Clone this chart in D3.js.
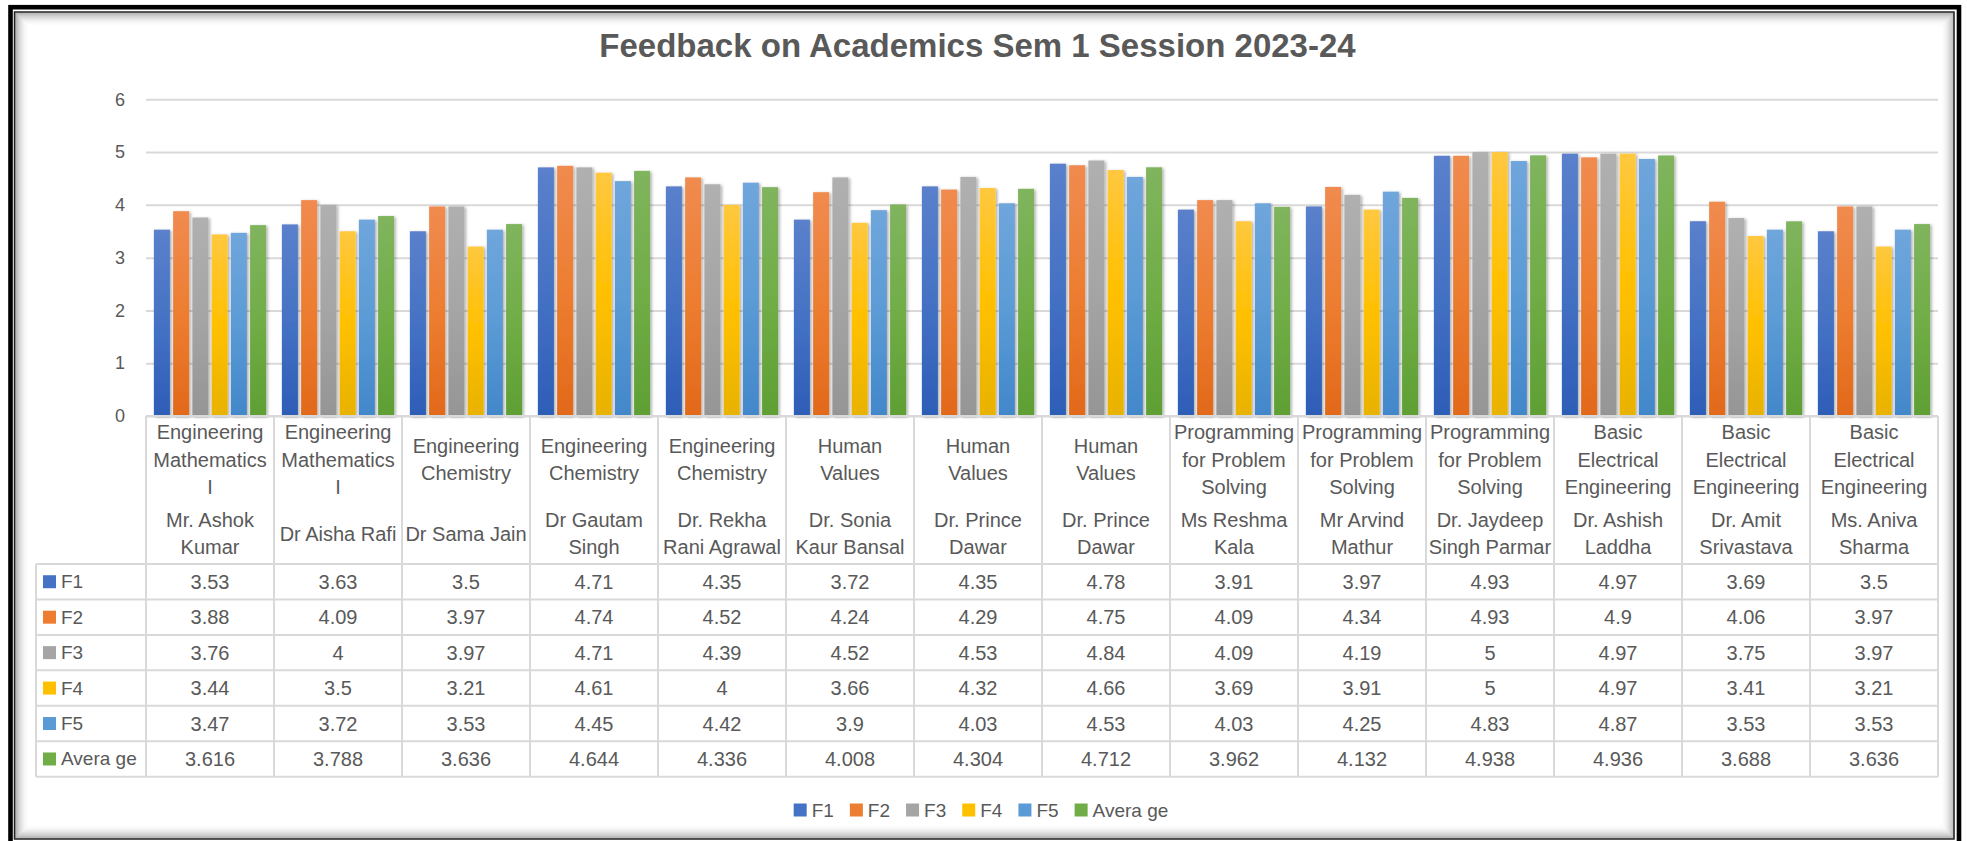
<!DOCTYPE html>
<html>
<head>
<meta charset="utf-8">
<script src="https://cdn.jsdelivr.net/npm/d3@7"></script>
<style>
  body { margin: 0; background: #fff; }
  svg { display: block; }
  text { font-family: "Liberation Sans", Arial, sans-serif; fill: #595959; }
</style>
</head>
<body>
<div id="chart"></div>
<script>

const width = 1967 ;
const height = 841 ;

// subject / teacher labels, one string per column, lines split by \n
const subjects = [
	"Engineering\nMathematics\nI", "Engineering\nMathematics\nI",
	"Engineering\nChemistry", "Engineering\nChemistry", "Engineering\nChemistry",
	"Human\nValues", "Human\nValues", "Human\nValues",
	"Programming\nfor Problem\nSolving", "Programming\nfor Problem\nSolving", "Programming\nfor Problem\nSolving",
	"Basic\nElectrical\nEngineering", "Basic\nElectrical\nEngineering", "Basic\nElectrical\nEngineering"
]
const teachers = [
	"Mr. Ashok\nKumar", "Dr Aisha Rafi", "Dr Sama Jain", "Dr Gautam\nSingh", "Dr. Rekha\nRani Agrawal",
	"Dr. Sonia\nKaur Bansal", "Dr. Prince\nDawar", "Dr. Prince\nDawar", "Ms Reshma\nKala", "Mr Arvind\nMathur",
	"Dr. Jaydeep\nSingh Parmar", "Dr. Ashish\nLaddha", "Dr. Amit\nSrivastava", "Ms. Aniva\nSharma"
]

const seriesNames = [ "F1", "F2", "F3", "F4", "F5", "Avera ge" ]

const F1  = [3.53, 3.63, 3.5, 4.71, 4.35, 3.72, 4.35, 4.78, 3.91, 3.97, 4.93, 4.97, 3.69, 3.5]
const F2  = [3.88, 4.09, 3.97, 4.74, 4.52, 4.24, 4.29, 4.75, 4.09, 4.34, 4.93, 4.9, 4.06, 3.97]
const F3  = [3.76, 4, 3.97, 4.71, 4.39, 4.52, 4.53, 4.84, 4.09, 4.19, 5, 4.97, 3.75, 3.97]
const F4  = [3.44, 3.5, 3.21, 4.61, 4, 3.66, 4.32, 4.66, 3.69, 3.91, 5, 4.97, 3.41, 3.21]
const F5  = [3.47, 3.72, 3.53, 4.45, 4.42, 3.9, 4.03, 4.53, 4.03, 4.25, 4.83, 4.87, 3.53, 3.53]
const Avg = [3.616, 3.788, 3.636, 4.644, 4.336, 4.008, 4.304, 4.712, 3.962, 4.132, 4.938, 4.936, 3.688, 3.636]

const yTicks = [0, 1, 2, 3, 4, 5, 6]

const series = [F1, F2, F3, F4, F5, Avg]

// base colour + top / bottom shade of the bar gradient
const colors = [ "#4472C4", "#ED7D31", "#A5A5A5", "#FFC000", "#5B9BD5", "#70AD47" ]
const shadeTop = [ "#5B80CB", "#F08B4F", "#B0B0B0", "#FFC83F", "#6FA6DC", "#80B45E" ]
const shadeBot = [ "#2E5DB7", "#E2691A", "#959595", "#E8B200", "#4287CA", "#5E9F34" ]

const plotLeft = 146, plotRight = 1938
const plotTop = 99.3, plotBottom = 416
const rowTop = 564, rowH = 35.45
const tableLeft = 36
const lineColor = "#D9D9D9"

const svg = d3.select("#chart").append("svg")
	.attr("width", width)
	.attr("height", height)

const defs = svg.append("defs")

series.forEach(function(s, i) {
	const g = defs.append("linearGradient")
		.attr("id", "grad" + i)
		.attr("x1", 0).attr("y1", 0).attr("x2", 0).attr("y2", 1)
	g.append("stop").attr("offset", "0%").attr("stop-color", shadeTop[i])
	g.append("stop").attr("offset", "50%").attr("stop-color", colors[i])
	g.append("stop").attr("offset", "100%").attr("stop-color", shadeBot[i])
})

defs.append("filter").attr("id", "shadow")
	.attr("x", "-20%").attr("y", "-5%").attr("width", "160%").attr("height", "115%")
	.append("feDropShadow")
	.attr("dx", 1.5).attr("dy", 1).attr("stdDeviation", 1.5)
	.attr("flood-color", "#000").attr("flood-opacity", 0.35)

svg.append("rect").attr("width", width).attr("height", height).attr("fill", "#fff")

// frame: thick black border, thin inner line and soft inner shadow
for (var k = 0; k < 14; k++) {
	svg.append("rect")
		.attr("x", 15.5 + k).attr("y", 13 + k)
		.attr("width", 1954 - 15.5 - 2 * k).attr("height", 838 - 13 - 2 * k)
		.attr("fill", "none")
		.attr("stroke", "#000")
		.attr("stroke-opacity", 0.32 * Math.pow(1 - k / 14, 2))
}
svg.append("rect")
	.attr("x", 14.5).attr("y", 12).attr("width", 1954 - 14.5).attr("height", 839 - 12)
	.attr("fill", "none").attr("stroke", "#222").attr("stroke-width", 1.5)
svg.append("rect")
	.attr("x", 10.5).attr("y", 7.2).attr("width", 1959 - 10.5).attr("height", 840)
	.attr("fill", "none").attr("stroke", "#000").attr("stroke-width", 4.6)

svg.append("text")
	.attr("x", 977.5).attr("y", 57)
	.attr("text-anchor", "middle")
	.style("font-size", "33px").style("font-weight", "bold")
	.text("Feedback on Academics Sem 1 Session 2023-24")

const x0 = d3.scaleBand().domain(d3.range(subjects.length)).range([plotLeft, plotRight]).padding(0)
const x1 = d3.scaleBand().domain(d3.range(series.length)).range([0, x0.bandwidth()])
	.paddingInner(0.167).paddingOuter(0.41)
const y = d3.scaleLinear().domain([0, 6]).range([plotBottom, plotTop])

// gridlines + y labels
const yAxis = svg.append("g")
	.attr("transform", "translate(" + plotLeft + ",0)")
	.call(d3.axisLeft(y).tickValues(yTicks).tickFormat(d3.format("d"))
		.tickSize(-(plotRight - plotLeft)).tickPadding(21))
yAxis.select(".domain").remove()
yAxis.selectAll("line").attr("stroke", lineColor).attr("stroke-width", 2)
yAxis.selectAll("text").style("font-size", "18px").attr("fill", "#595959")
	.style("font-family", "'Liberation Sans', Arial, sans-serif")

// bars
const groups = svg.append("g").selectAll("g")
	.data(subjects)
	.enter().append("g")
	.attr("transform", function(d, i) { return "translate(" + x0(i) + ",0)" })

groups.selectAll("rect")
	.data(function(d, i) { return series.map(function(s, j) { return { s: j, v: s[i] } }) })
	.enter().append("rect")
	.attr("x", function(d) { return x1(d.s) })
	.attr("y", function(d) { return y(d.v) })
	.attr("width", x1.bandwidth())
	.attr("height", function(d) { return y(0) - y(d.v) })
	.attr("fill", function(d) { return "url(#grad" + d.s + ")" })
	.attr("filter", "url(#shadow)")

// data table
const table = svg.append("g")
const rowBottom = rowTop + rowH * series.length

table.append("line")
	.attr("x1", plotLeft).attr("x2", plotRight).attr("y1", plotBottom).attr("y2", plotBottom)
	.attr("stroke", lineColor).attr("stroke-width", 2)

d3.range(series.length + 1).forEach(function(r) {
	table.append("line")
		.attr("x1", tableLeft).attr("x2", plotRight)
		.attr("y1", rowTop + r * rowH).attr("y2", rowTop + r * rowH)
		.attr("stroke", lineColor).attr("stroke-width", 2)
})
table.append("line")
	.attr("x1", tableLeft).attr("x2", tableLeft).attr("y1", rowTop).attr("y2", rowBottom)
	.attr("stroke", lineColor).attr("stroke-width", 2)
d3.range(subjects.length + 1).forEach(function(c) {
	const xx = c < subjects.length ? x0(c) : plotRight
	table.append("line")
		.attr("x1", xx).attr("x2", xx).attr("y1", plotBottom).attr("y2", rowBottom)
		.attr("stroke", lineColor).attr("stroke-width", 2)
})

function multiline(sel, str, cx, cy, lh) {
	const lines = str.split("\n")
	lines.forEach(function(l, i) {
		sel.append("text")
			.attr("x", cx)
			.attr("y", cy + (i - (lines.length - 1) / 2) * lh)
			.attr("text-anchor", "middle")
			.attr("dominant-baseline", "central")
			.style("font-size", "20px")
			.text(l)
	})
}

subjects.forEach(function(s, i) {
	const cx = x0(i) + x0.bandwidth() / 2
	multiline(table, s, cx, 459.5, 27.5)
	multiline(table, teachers[i], cx, 533.5, 27.3)
})

series.forEach(function(s, r) {
	const cy = rowTop + rowH * (r + 0.5)
	table.append("rect")
		.attr("x", 43).attr("y", cy - 6.5).attr("width", 13).attr("height", 13)
		.attr("fill", colors[r])
	table.append("text")
		.attr("x", 61).attr("y", cy)
		.attr("dominant-baseline", "central")
		.style("font-size", "19px")
		.text(seriesNames[r])
	s.forEach(function(v, i) {
		table.append("text")
			.attr("x", x0(i) + x0.bandwidth() / 2).attr("y", cy)
			.attr("text-anchor", "middle")
			.attr("dominant-baseline", "central")
			.style("font-size", "20px")
			.text(String(v))
	})
})

// bottom legend
const legend = svg.append("g")
var lx = 0
seriesNames.forEach(function(n, i) {
	const item = legend.append("g").attr("transform", "translate(" + lx + ",0)")
	item.append("rect").attr("x", 0).attr("y", -6.5).attr("width", 13).attr("height", 13).attr("fill", colors[i])
	const t = item.append("text").attr("x", 18).attr("y", 0)
		.attr("dominant-baseline", "central")
		.style("font-size", "19px")
		.text(n)
	lx += 18 + t.node().getComputedTextLength() + 16
})
lx -= 16
legend.attr("transform", "translate(" + (981 - lx / 2) + ",810)")

</script>
</body>
</html>
